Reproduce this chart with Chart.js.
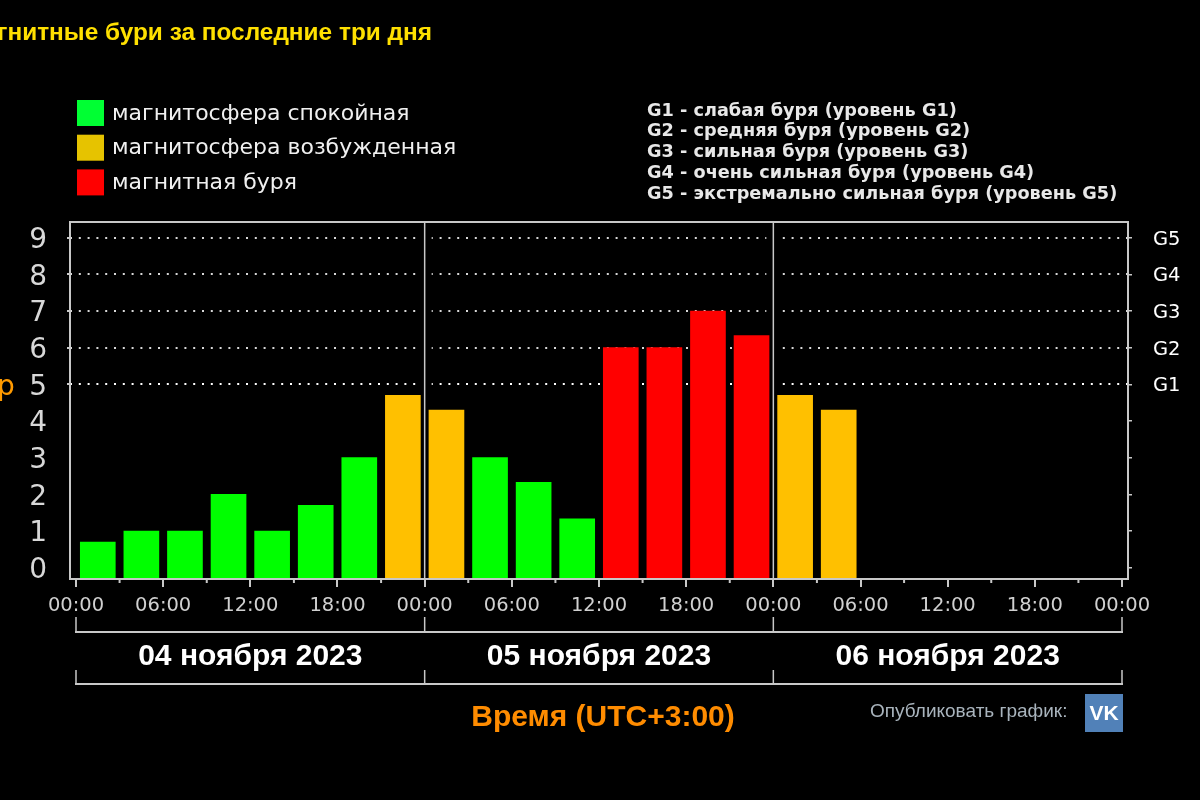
<!DOCTYPE html>
<html>
<head>
<meta charset="utf-8">
<title>Магнитные бури</title>
<script src="https://cdn.jsdelivr.net/npm/chart.js@4/dist/chart.umd.min.js"></script>
<style>
  html, body { margin: 0; padding: 0; background: #000; overflow: hidden; }
  canvas { display: block; }
</style>
</head>
<body>
<canvas id="stormChart" width="1200" height="800"></canvas>
<script>
// Kp index, one bar per three hours, hours counted from 04 Nov 00:00
const barHours = [1.5, 4.5, 7.5, 10.5, 13.5, 16.5, 19.5, 22.5, 25.5, 28.5, 31.5, 34.5, 37.5, 40.5, 43.5, 46.5, 49.5, 52.5];
const kpValues = [0.7, 1, 1, 2, 1, 1.7, 3, 4.7, 4.3, 3, 2.33, 1.33, 6, 6, 7, 6.33, 4.7, 4.3];
const kpLevels = [0, 0, 0, 0, 0, 0, 0, 1, 1, 0, 0, 0, 2, 2, 2, 2, 1, 1];

const levelNames = ["магнитосфера спокойная", "магнитосфера возбужденная", "магнитная буря"];
const levelColors = ["#00ff00", "#ffc000", "#ff0000"];
const legendColors = ["#00ff33", "#e6c300", "#ff0000"];

const hourTicks = [0, 3, 6, 9, 12, 15, 18, 21, 24, 27, 30, 33, 36, 39, 42, 45, 48, 51, 54, 57, 60, 63, 66, 69, 72];
const dayEdges = [0, 24, 48, 72];
const dayLabels = ["04 ноября 2023", "05 ноября 2023", "06 ноября 2023"];
const kpTicks = [0, 1, 2, 3, 4, 5, 6, 7, 8, 9];
const stormLabels = ["G1", "G2", "G3", "G4", "G5"];
const stormNotes = [
  "G1 - слабая буря (уровень G1)",
  "G2 - средняя буря (уровень G2)",
  "G3 - сильная буря (уровень G3)",
  "G4 - очень сильная буря (уровень G4)",
  "G5 - экстремально сильная буря (уровень G5)",
];

const lineColor = "#c8c8c8";
const Y_MIN = -0.308;
const Y_MAX = 9.427;

// One dataset per level, so each colour has its own name
function pointsForLevel(level) {
  const points = [];
  barHours.forEach((hour, i) => {
    if (kpLevels[i] === level) points.push({ x: hour, y: kpValues[i] });
  });
  return points;
}

function putText(ctx, text, x, y, font, color, align) {
  ctx.font = font;
  ctx.fillStyle = color;
  ctx.textAlign = align || "left";
  ctx.textBaseline = "middle";
  ctx.fillText(text, x, y);
}

function line(ctx, x1, y1, x2, y2) {
  ctx.beginPath();
  ctx.moveTo(x1, y1);
  ctx.lineTo(x2, y2);
  ctx.stroke();
}

// Black gap round the day lines, under the bars, cuts the dotted grid
const gridGaps = {
  id: "gridGaps",
  beforeDatasetsDraw(chart) {
    const { ctx, chartArea, scales } = chart;
    ctx.save();
    ctx.strokeStyle = "#000";
    ctx.lineWidth = 14;
    [24, 48].forEach((hour) => {
      const x = scales.x.getPixelForValue(hour);
      line(ctx, x, chartArea.top + 2, x, chartArea.bottom - 2);
    });
    ctx.restore();
  },
};

// Frame, day lines, brackets and all the loose text
const decorations = {
  id: "decorations",
  afterDraw(chart) {
    const { ctx, chartArea, scales } = chart;
    const x = scales.x;
    ctx.save();
    ctx.strokeStyle = lineColor;
    ctx.lineWidth = 2;
    ctx.strokeRect(chartArea.left, chartArea.top, chartArea.right - chartArea.left, chartArea.bottom - chartArea.top);

    // short ticks on the odd three hours
    hourTicks.forEach((hour) => {
      if (hour % 6 !== 0) {
        const px = x.getPixelForValue(hour);
        line(ctx, px, chartArea.bottom, px, chartArea.bottom + 4);
      }
    });

    // day lines run from the top of the plot into the upper bracket
    ctx.lineWidth = 1.5;
    dayEdges.forEach((hour) => {
      const px = x.getPixelForValue(hour);
      if (hour > 0 && hour < 72) line(ctx, px, chartArea.top, px, chartArea.bottom);
      line(ctx, px, 617, px, 632);
      line(ctx, px, 670, px, 684);
    });
    ctx.lineWidth = 2;
    line(ctx, x.getPixelForValue(0) - 1, 632, x.getPixelForValue(72) + 1, 632);
    line(ctx, x.getPixelForValue(0) - 1, 684, x.getPixelForValue(72) + 1, 684);

    dayLabels.forEach((label, i) => {
      const mid = (x.getPixelForValue(dayEdges[i]) + x.getPixelForValue(dayEdges[i + 1])) / 2;
      putText(ctx, label, mid, 657, "bold 30px 'Liberation Sans'", "#ffffff", "center");
    });

    putText(ctx, "гнитные бури за последние три дня", 432, 33, "bold 24.4px 'Liberation Sans'", "#ffe000", "right");
    putText(ctx, "p", -3, 388, "28px 'DejaVu Sans'", "#ff9a00");
    putText(ctx, "Время (UTC+3:00)", 603, 718, "bold 30px 'Liberation Sans'", "#ff8c00", "center");
    putText(ctx, "Опубликовать график:", 870, 712, "19px 'Liberation Sans'", "#a9b4bd");

    // legend, three rows on the left
    levelNames.forEach((name, i) => {
      const rowY = 113 + i * 34.7;
      ctx.fillStyle = legendColors[i];
      ctx.fillRect(77, rowY - 13, 27, 26);
      putText(ctx, name, 112, rowY + 1, "22px 'DejaVu Sans'", "#f0f0f0");
    });

    stormNotes.forEach((note, i) => {
      putText(ctx, note, 647, 111 + i * 20.8, "bold 17.7px 'DejaVu Sans'", "#e8e8e8");
    });

    // VK button
    ctx.fillStyle = "#5181b8";
    ctx.fillRect(1085, 694, 38, 38);
    putText(ctx, "VK", 1104, 714, "bold 21px 'Liberation Sans'", "#ffffff", "center");
    ctx.restore();
  },
};

new Chart(document.getElementById("stormChart"), {
  type: "bar",
  data: {
    datasets: levelNames.map((name, level) => ({
      label: name,
      data: pointsForLevel(level),
      backgroundColor: levelColors[level],
      base: Y_MIN,
      barThickness: 35,
      grouped: false,
    })),
  },
  options: {
    responsive: false,
    animation: false,
    devicePixelRatio: 1,
    layout: { padding: { top: 222, bottom: 171, left: 0, right: 0 } },
    plugins: { legend: { display: false }, tooltip: { enabled: false } },
    scales: {
      x: {
        type: "linear",
        offset: false,
        min: -0.413,
        max: 72.413,
        afterBuildTicks: (axis) => { axis.ticks = hourTicks.map((value) => ({ value })); },
        afterFit: (axis) => { axis.height = 50; },
        border: { display: false },
        grid: {
          offset: false,
          drawOnChartArea: false,
          tickLength: 8,
          lineWidth: 2,
          tickColor: (c) => (c.tick && c.tick.value % 6 === 0 ? lineColor : "transparent"),
        },
        ticks: {
          autoSkip: false,
          maxRotation: 0,
          padding: 7,
          color: "#d0d0d0",
          font: { family: "DejaVu Sans", size: 19.5 },
          callback: (value) => (value % 6 === 0 ? String(value % 24).padStart(2, "0") + ":00" : ""),
        },
      },
      y: {
        position: "left",
        min: Y_MIN,
        max: Y_MAX,
        afterBuildTicks: (axis) => { axis.ticks = kpTicks.map((value) => ({ value })); },
        afterFit: (axis) => { axis.width = 70; },
        border: { display: false, dash: [2, 6.8] },
        grid: {
          tickLength: 3,
          tickColor: lineColor,
          lineWidth: (c) => (c.tick && c.tick.value >= 5 ? 2 : 0),
          color: (c) => (c.tick && c.tick.value === 5 ? "#ffffff" : "#d8d8d8"),
          tickBorderDash: [],
        },
        ticks: {
          padding: 20,
          labelOffset: 3,
          color: "#d8d8d8",
          font: { family: "DejaVu Sans", size: 28 },
        },
      },
      right: {
        position: "right",
        min: Y_MIN,
        max: Y_MAX,
        afterBuildTicks: (axis) => { axis.ticks = kpTicks.map((value) => ({ value })); },
        afterFit: (axis) => { axis.width = 72; },
        border: { display: false },
        grid: { drawOnChartArea: false, tickLength: 4, tickColor: lineColor, lineWidth: 1.5 },
        ticks: {
          padding: 21,
          labelOffset: 2,
          color: "#ffffff",
          font: { family: "DejaVu Sans", size: 19.5 },
          callback: (value) => (value >= 5 ? stormLabels[value - 5] : ""),
        },
      },
    },
    elements: { bar: { borderWidth: 0 } },
  },
  plugins: [gridGaps, decorations],
});
</script>
</body>
</html>
